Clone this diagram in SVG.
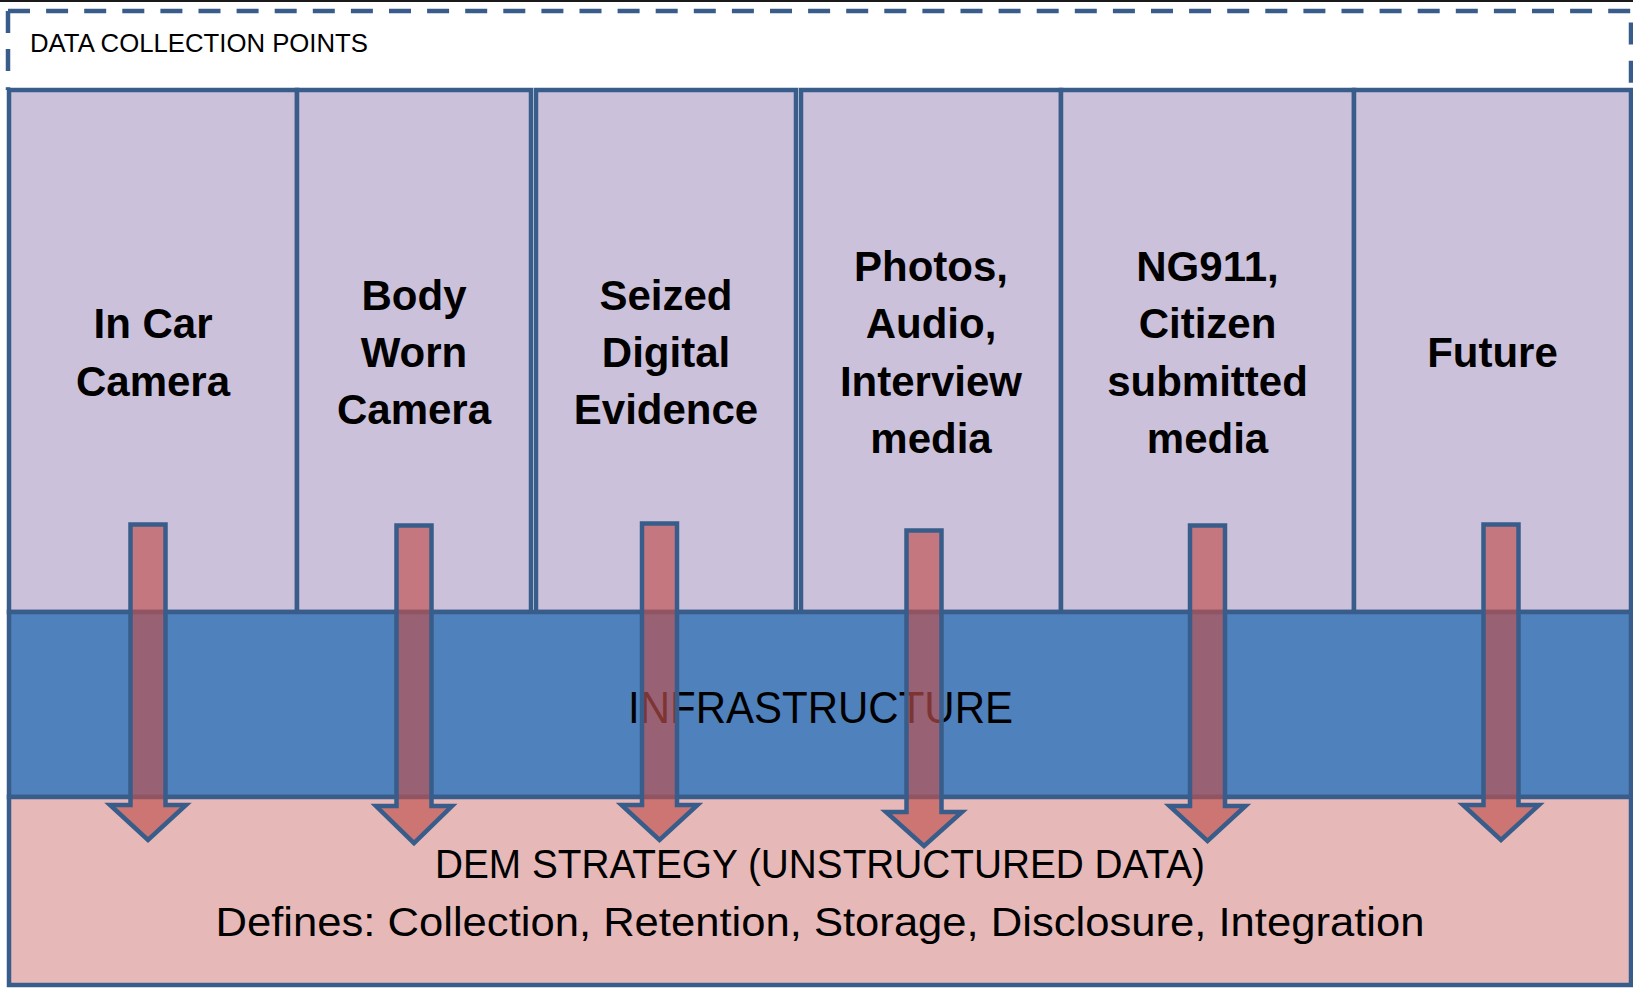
<svg xmlns="http://www.w3.org/2000/svg" width="1633" height="988" viewBox="0 0 1633 988">
<style>
.col{fill:#CCC1DA;stroke:#385D8A;stroke-width:4.5}
.band{stroke:#385D8A;stroke-width:4.5}
.dash{fill:none;stroke:#385D8A;stroke-width:4.5;stroke-dasharray:22 16.1}
.lbl{font-family:"Liberation Sans",Arial,sans-serif;font-weight:bold;font-size:42px;fill:#000;text-anchor:middle}
.reg{font-family:"Liberation Sans",Arial,sans-serif;fill:#000}
.arrow{fill:#C0504D;fill-opacity:0.65;stroke:#385D8A;stroke-width:4.5;stroke-linejoin:miter}
</style>
<rect x="0" y="0" width="1633" height="988" fill="#FFFFFF"/>
<line x1="0" y1="1" x2="1633" y2="1" stroke="#1a1a1a" stroke-width="2"/>
<g id="frame">
<path class="dash" d="M8,11 H1631"/>
<path class="dash" d="M8,11 V90"/>
<path class="dash" d="M1631,11 V90" style="stroke-dashoffset:26.5"/>
<text class="reg" x="30" y="52" font-size="26" textLength="338" lengthAdjust="spacingAndGlyphs">DATA COLLECTION POINTS</text>
</g>
<g id="col1"><rect class="col" x="9" y="90" width="288" height="522"/>
<text class="lbl"><tspan x="153" y="338">In Car</tspan><tspan x="153" y="395.5">Camera</tspan></text></g>
<g id="col2"><rect class="col" x="297" y="90" width="234" height="522"/>
<text class="lbl"><tspan x="414" y="309.5">Body</tspan><tspan x="414" y="367">Worn</tspan><tspan x="414" y="424">Camera</tspan></text></g>
<g id="col3"><rect class="col" x="536" y="90" width="260" height="522"/>
<text class="lbl"><tspan x="666" y="309.5">Seized</tspan><tspan x="666" y="367">Digital</tspan><tspan x="666" y="424">Evidence</tspan></text></g>
<g id="col4"><rect class="col" x="801" y="90" width="260" height="522"/>
<text class="lbl"><tspan x="931" y="281">Photos,</tspan><tspan x="931" y="338">Audio,</tspan><tspan x="931" y="395.5">Interview</tspan><tspan x="931" y="453">media</tspan></text></g>
<g id="col5"><rect class="col" x="1061" y="90" width="293" height="522"/>
<text class="lbl"><tspan x="1207.5" y="281">NG911,</tspan><tspan x="1207.5" y="338">Citizen</tspan><tspan x="1207.5" y="395.5">submitted</tspan><tspan x="1207.5" y="453">media</tspan></text></g>
<g id="col6"><rect class="col" x="1354" y="90" width="277" height="522"/>
<text class="lbl" x="1492.5" y="367">Future</text></g>
<g id="infrastructure"><rect class="band" x="9" y="612" width="1622" height="185" fill="#4F81BD"/>
<text class="reg" x="820.5" y="723" font-size="44" text-anchor="middle" textLength="385" lengthAdjust="spacingAndGlyphs">INFRASTRUCTURE</text></g>
<g id="dem"><rect class="band" x="9" y="797" width="1622" height="188" fill="#E6B9B8"/>
<text class="reg" x="820" y="878" font-size="40" text-anchor="middle" textLength="770" lengthAdjust="spacingAndGlyphs">DEM STRATEGY (UNSTRUCTURED DATA)</text>
<text class="reg" x="820" y="936" font-size="40" text-anchor="middle" textLength="1209" lengthAdjust="spacingAndGlyphs">Defines: Collection, Retention, Storage, Disclosure, Integration</text></g>
<g id="connectors">
<path class="arrow" d="M130.5,524.5 H165.5 V805 H186 L148,840 L110,805 H130.5 Z"/>
<path class="arrow" d="M396.5,525.5 H431.5 V806 H452 L414,843 L376,806 H396.5 Z"/>
<path class="arrow" d="M642,523.5 H677 V805 H697.5 L659.5,840 L621.5,805 H642 Z"/>
<path class="arrow" d="M906.5,530.5 H941.5 V812 H962 L924,846 L886,812 H906.5 Z"/>
<path class="arrow" d="M1190,525.5 H1225 V806 H1245.5 L1207.5,841 L1169.5,806 H1190 Z"/>
<path class="arrow" d="M1483.5,524.5 H1518.5 V805 H1539 L1501,840 L1463,805 H1483.5 Z"/>
</g>
</svg>
